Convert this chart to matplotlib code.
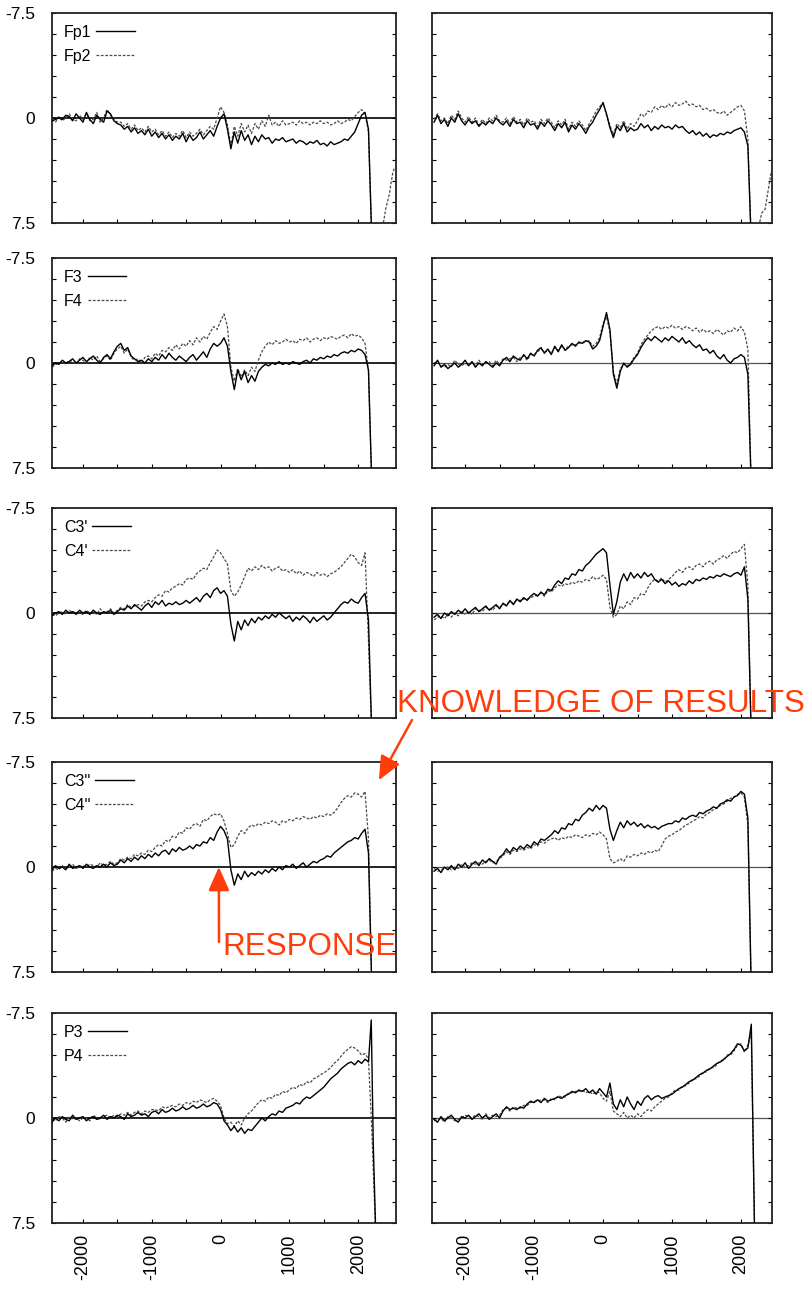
import numpy as np
import matplotlib
matplotlib.use("Agg")
import matplotlib.pyplot as plt

plt.rcParams['font.family'] = ['Liberation Sans', 'DejaVu Sans']

# sampling times (ms), 50 ms step
t = np.arange(-2450, 2151, 50)

# ---- row 1 : Fp1 / Fp2 ----
fp1_l = [0.2, 0.1, 0.0, 0.1, -0.2, -0.1, 0.2, -0.3, 0.0, 0.3,
         -0.4, 0.1, 0.4, -0.2, 0.1, 0.3, -0.5, -0.3, 0.2, 0.4,
         0.5, 0.8, 0.6, 1.0, 0.7, 1.1, 0.9, 1.2, 0.8, 1.3,
         1.0, 1.4, 1.1, 1.5, 1.2, 1.6, 1.3, 1.5, 1.1, 1.7,
         1.2, 1.6, 1.4, 1.0, 1.5, 1.2, 0.9, 1.3, 0.6,
         0.0, -0.3, 0.8, 2.2, 1.0, 1.8, 0.9, 1.6, 1.2, 1.9,
         1.3, 1.7, 1.2, 1.5, 1.4, 1.8, 1.5, 1.6, 1.4, 1.7,
         1.6, 1.5, 1.8, 1.6, 1.7, 1.9, 1.7, 1.8, 1.6, 1.9,
         1.8, 2.0, 1.7, 1.9, 1.8, 1.7, 1.5, 1.6, 1.3, 1.0,
         0.4, -0.2, -0.4, 0.8]
fp2_l = [0.1, 0.3, -0.1, 0.2, 0.0, -0.3, 0.1, 0.2, -0.2, 0.1,
         -0.3, 0.2, 0.1, -0.4, 0.3, 0.0, -0.6, -0.2, 0.1, 0.3,
         0.3, 0.6, 0.4, 0.8, 0.5, 0.9, 0.7, 1.0, 0.6, 1.0,
         0.8, 1.2, 0.9, 1.3, 1.0, 1.4, 1.1, 1.3, 0.9, 1.4,
         1.0, 1.3, 1.1, 0.8, 1.2, 0.9, 0.6, 0.8, 0.0,
         -0.8, -0.4, 0.5, 2.0, 0.6, 1.3, 0.4, 1.0, 0.5, 1.1,
         0.4, 0.8, 0.2, 0.6, -0.2, 0.5, 0.3, 0.6, 0.2, 0.5,
         0.4, 0.3, 0.5, 0.2, 0.4, 0.3, 0.5, 0.3, 0.4, 0.2,
         0.4, 0.3, 0.5, 0.4, 0.2, 0.4, 0.3, 0.1, 0.2, -0.1,
         -0.4, -0.6, -0.3, 1.0]
fp1_r = [0.3, -0.2, 0.4, 0.1, 0.6, 0.0, 0.3, -0.3, 0.2, 0.5,
         0.1, 0.4, 0.2, 0.6, 0.3, 0.5, 0.2, 0.4, 0.0, 0.3,
         0.5, 0.2, 0.6, 0.1, 0.4, 0.3, 0.7, 0.2, 0.5, 0.4,
         0.8, 0.3, 0.6, 0.2, 0.5, 0.9, 0.4, 0.7, 0.3, 1.0,
         0.5, 0.8, 0.4, 0.7, 1.1, 0.6, 0.3, -0.2, -0.6,
         -1.1, -0.3, 0.7, 1.4, 0.6, 0.9, 0.4, 1.0, 0.7, 0.9,
         0.8, 0.4, 0.7, 0.5, 0.9, 0.6, 0.8, 0.5, 0.7, 0.6,
         0.8, 0.5, 0.7, 0.6, 0.9, 1.1, 0.9, 1.2, 1.0, 1.3,
         1.1, 1.4, 1.2, 1.3, 1.1, 1.2, 1.0, 1.1, 0.9, 0.8,
         0.7, 1.0, 2.0, 9.0]
fp2_r = [0.1, -0.3, 0.2, 0.0, 0.4, -0.2, 0.1, -0.5, 0.0, 0.3,
         -0.1, 0.3, 0.0, 0.5, 0.1, 0.4, 0.0, 0.2, -0.2, 0.2,
         0.3, 0.0, 0.4, -0.1, 0.3, 0.1, 0.5, 0.0, 0.3, 0.2,
         0.6, 0.1, 0.4, 0.0, 0.3, 0.7, 0.2, 0.5, 0.1, 0.8,
         0.3, 0.6, 0.2, 0.5, 0.9, 0.4, 0.0, -0.5, -0.8,
         -1.1, -0.2, 0.5, 1.2, 0.4, 0.7, 0.2, 0.8, 0.4, 0.6,
         0.2, -0.3, -0.1, -0.5, -0.4, -0.8, -0.6, -0.9, -0.7, -1.0,
         -0.8, -1.1, -0.9, -1.0, -1.2, -0.9, -1.0, -0.8, -0.9, -0.6,
         -0.7, -0.5, -0.6, -0.4, -0.3, -0.5, -0.2, -0.4, -0.6, -0.8,
         -0.9, -0.5, 1.5, 9.0]

# ---- row 2 : F3 / F4 ----
f3_l = [0.2, 0.0, 0.1, -0.2, 0.0, -0.1, -0.3, 0.0, -0.2, -0.4,
        -0.1, -0.3, -0.5, -0.2, 0.0, -0.4, -0.6, -0.3, -0.8, -1.2,
        -1.4, -0.9, -1.1, -0.5, -0.3, -0.1, -0.2, 0.0, -0.3, -0.1,
        -0.4, -0.2, -0.6, -0.3, -0.7, -0.4, -0.2, -0.5, -0.3, -0.1,
        -0.4, -0.6, -0.2, -0.5, -0.8, -0.4, -1.0, -1.4, -1.2,
        -1.4, -1.8, -1.2, 0.6, 1.9, 0.5, 1.2, 0.6, 1.4, 0.9,
        1.3, 0.6, 0.3, 0.1, 0.2, 0.0, 0.1, -0.1, 0.1, 0.0,
        0.1, -0.1, 0.0, 0.1, -0.1, -0.2, 0.0, -0.3, -0.2, -0.4,
        -0.3, -0.5, -0.4, -0.6, -0.5, -0.7, -0.8, -0.7, -0.9, -0.8,
        -1.0, -0.9, -0.6, 0.5]
f4_l = [0.3, 0.1, 0.0, -0.1, 0.1, -0.2, -0.1, 0.1, -0.3, -0.2,
        0.0, -0.4, -0.2, -0.5, -0.1, -0.3, -0.5, -0.2, -0.7, -1.0,
        -1.2, -0.7, -1.0, -0.4, -0.2, -0.3, 0.0, -0.4, -0.5, -0.3,
        -0.7, -0.5, -0.9, -0.8, -1.1, -0.9, -1.3, -1.0, -1.4, -1.2,
        -1.6, -1.3, -1.8, -1.5, -1.9, -1.7, -2.2, -2.6, -2.4,
        -3.0, -3.5, -2.6, 0.3, 1.3, 0.4, 1.0, 0.5, 0.9, 0.3,
        0.6, -0.2, -0.8, -1.2, -1.5, -1.3, -1.6, -1.4, -1.5, -1.7,
        -1.5, -1.6, -1.4, -1.7, -1.6, -1.8, -1.5, -1.7, -1.8, -1.6,
        -1.8, -1.7, -1.9, -1.8, -1.7, -1.9, -2.0, -1.8, -2.1, -1.9,
        -2.0, -1.8, -1.4, 0.6]
f3_r = [0.2, -0.2, 0.3, 0.1, 0.4, 0.2, 0.0, 0.3, 0.1, -0.2,
        0.2, -0.1, 0.3, 0.0, 0.2, -0.1, 0.1, 0.3, 0.0, 0.2,
        -0.2, -0.4, -0.1, -0.5, -0.3, -0.2, -0.6, -0.3, -0.7, -0.5,
        -0.9, -1.1, -0.7, -1.0, -0.6, -1.2, -0.8, -1.3, -0.9, -1.1,
        -1.4, -1.2, -1.5, -1.4, -1.6, -1.5, -1.0, -1.2, -1.6,
        -2.6, -3.6, -2.4, 0.8, 1.8, 0.6, 0.0, 0.3, 0.1, -0.3,
        -0.6, -1.1, -1.5, -1.8, -1.6, -1.9, -1.7, -1.5, -1.8, -1.6,
        -1.9, -1.7, -1.5, -1.8, -1.4, -1.6, -1.3, -1.1, -1.3, -0.9,
        -1.0, -0.7, -0.9, -0.5, -0.3, -0.6, -0.2, 0.0, -0.3, -0.4,
        -0.6, -0.4, 0.8, 9.0]
f4_r = [0.0, -0.1, 0.2, 0.3, 0.1, 0.3, -0.2, 0.1, 0.2, 0.0,
        0.1, 0.0, 0.2, -0.2, 0.1, 0.0, -0.1, 0.2, -0.2, 0.1,
        -0.3, -0.2, -0.3, -0.4, -0.1, -0.4, -0.5, -0.2, -0.6, -0.6,
        -0.8, -1.0, -0.8, -0.9, -0.7, -1.1, -0.9, -1.2, -1.0, -1.2,
        -1.3, -1.3, -1.4, -1.5, -1.5, -1.6, -1.2, -1.4, -1.8,
        -2.8, -3.3, -2.2, 0.6, 1.5, 0.4, 0.1, 0.2, 0.0, -0.4,
        -0.7, -1.3, -1.7, -2.0, -2.3, -2.5, -2.6, -2.4, -2.6, -2.5,
        -2.7, -2.5, -2.6, -2.4, -2.6, -2.5, -2.3, -2.5, -2.2, -2.4,
        -2.2, -2.3, -2.1, -2.4, -2.2, -2.0, -2.3, -2.2, -2.5, -2.3,
        -2.6, -2.2, -1.0, 9.0]

# ---- row 3 : C3' / C4' ----
c3a_l = [0.2, 0.0, -0.1, 0.1, -0.2, 0.0, -0.1, 0.1, -0.2, 0.0,
         -0.1, 0.1, -0.2, 0.0, 0.1, -0.1, 0.0, -0.2, 0.1, -0.1,
         -0.3, -0.2, -0.5, -0.3, -0.6, -0.4, -0.2, -0.5, -0.7, -0.4,
         -0.8, -0.6, -0.9, -0.5, -0.7, -0.6, -0.8, -0.6, -0.7, -0.9,
         -0.7, -0.9, -1.1, -0.8, -1.2, -1.4, -1.1, -1.6, -1.8,
         -1.4, -1.6, -1.2, 0.8, 2.0, 0.6, 1.2, 0.5, 0.9, 0.4,
         0.7, 0.3, 0.5, 0.2, 0.4, 0.1, 0.3, 0.0, 0.2, 0.4,
         0.2, 0.6, 0.3, 0.5, 0.2, 0.4, 0.7, 0.3, 0.6, 0.4,
         0.2, 0.5, 0.3, 0.0, -0.3, -0.6, -0.8, -0.7, -1.0, -0.8,
         -0.7, -1.1, -1.4, 0.5]
c4a_l = [0.1, 0.2, 0.0, -0.1, 0.1, -0.2, 0.0, -0.1, 0.0, 0.1,
         -0.2, 0.0, -0.1, 0.1, -0.3, 0.0, -0.1, -0.3, 0.0, -0.2,
         -0.4, -0.3, -0.6, -0.4, -0.5, -0.6, -0.5, -0.8, -0.9, -0.8,
         -1.1, -1.3, -1.2, -1.6, -1.5, -1.8, -1.9, -2.1, -2.0, -2.4,
         -2.5, -2.4, -2.8, -3.0, -3.2, -3.1, -3.6, -4.0, -4.5,
         -4.3, -3.9, -3.5, -1.6, -1.2, -1.5, -2.0, -2.6, -3.2, -3.0,
         -3.3, -3.1, -3.4, -3.2, -3.3, -3.0, -3.2, -3.3, -3.0, -3.1,
         -2.9, -3.1, -2.8, -3.0, -2.7, -2.9, -2.8, -2.6, -2.9, -2.7,
         -2.8, -2.6, -2.8, -2.9, -3.1, -3.3, -3.6, -3.9, -4.2, -4.0,
         -3.6, -3.4, -4.3, 2.0]
c3a_r = [0.3, 0.1, 0.4, 0.0, 0.2, -0.1, 0.1, -0.2, 0.0, -0.3,
         0.0, -0.2, -0.4, -0.1, -0.3, -0.5, -0.2, -0.4, -0.6, -0.3,
         -0.7, -0.5, -0.9, -0.6, -1.0, -0.8, -1.1, -0.9, -1.2, -1.4,
         -1.2, -1.5, -1.3, -1.7, -1.6, -2.0, -2.3, -2.1, -2.5, -2.4,
         -2.8, -2.7, -3.1, -3.0, -3.4, -3.6, -3.9, -4.2, -4.4,
         -4.6, -4.3, -2.0, 0.1, -0.8, -2.2, -2.8, -2.3, -2.9, -2.5,
         -2.8, -2.5, -2.9, -2.6, -2.8, -2.4, -2.2, -2.4, -2.1, -2.3,
         -2.0, -2.2, -1.9, -2.1, -2.0, -2.3, -2.1, -2.4, -2.3, -2.5,
         -2.4, -2.6, -2.5, -2.7, -2.6, -2.8, -2.7, -2.6, -2.8, -2.9,
         -2.7, -3.3, -1.0, 9.0]
c4a_r = [0.5, 0.3, 0.2, 0.4, 0.1, 0.3, 0.0, 0.2, -0.1, 0.1,
         -0.1, 0.1, -0.3, -0.2, -0.1, -0.4, -0.3, -0.2, -0.5, -0.4,
         -0.6, -0.6, -0.8, -0.7, -0.9, -0.9, -1.0, -1.0, -1.1, -1.2,
         -1.3, -1.4, -1.2, -1.6, -1.5, -1.8, -2.0, -1.9, -2.1, -2.0,
         -2.2, -2.1, -2.3, -2.2, -2.4, -2.3, -2.6, -2.4, -2.5,
         -2.7, -2.4, -0.4, 0.3, 0.1, -0.5, -0.3, -0.8, -0.6, -1.1,
         -1.0, -1.4, -1.3, -1.8, -2.2, -2.4, -2.3, -2.5, -2.2, -2.4,
         -2.6, -2.9, -3.1, -2.9, -3.2, -3.3, -3.1, -3.4, -3.5, -3.3,
         -3.6, -3.7, -3.5, -3.8, -3.9, -4.1, -3.9, -4.2, -4.4, -4.3,
         -4.6, -4.9, -2.0, 9.0]

# ---- row 4 : C3'' / C4'' ----
c3b_l = [0.2, -0.1, 0.1, 0.0, 0.2, -0.2, 0.1, 0.0, -0.1, 0.1,
         -0.2, 0.0, 0.1, -0.1, 0.0, -0.2, 0.0, -0.3, -0.1, -0.2,
         -0.5, -0.3, -0.6, -0.4, -0.7, -0.5, -0.8, -0.6, -0.9, -0.7,
         -1.0, -0.8, -1.1, -1.2, -0.9, -1.3, -1.1, -1.4, -1.2, -1.3,
         -1.5, -1.3, -1.6, -1.5, -1.8, -1.7, -2.1, -1.9, -2.5,
         -2.9, -2.6, -2.0, 0.2, 1.3, 0.5, 0.9, 0.3, 0.7, 0.4,
         0.6, 0.3, 0.5, 0.2, 0.4, 0.1, 0.3, 0.0, 0.2, -0.1,
         0.0, -0.2, 0.1, -0.1, -0.3, 0.0, -0.2, -0.4, -0.3, -0.5,
         -0.6, -0.8, -0.7, -1.0, -1.2, -1.4, -1.6, -1.8, -1.9, -2.1,
         -2.0, -2.4, -2.7, -1.0]
c4b_l = [0.3, 0.1, 0.2, -0.1, 0.1, 0.0, -0.2, 0.1, 0.0, -0.1,
         0.0, -0.2, -0.1, 0.0, -0.3, -0.1, -0.2, -0.4, -0.2, -0.3,
         -0.6, -0.5, -0.7, -0.6, -0.9, -0.8, -1.0, -0.9, -1.2, -1.1,
         -1.4, -1.6, -1.5, -1.9, -1.8, -2.2, -2.1, -2.5, -2.4, -2.8,
         -2.7, -3.0, -3.1, -2.9, -3.4, -3.3, -3.6, -3.8, -3.7,
         -3.8, -3.3, -2.4, -1.4, -1.6, -2.2, -2.6, -2.4, -2.8, -3.0,
         -2.9, -3.1, -3.0, -3.2, -3.1, -3.3, -3.2, -3.0, -3.3, -3.2,
         -3.4, -3.3, -3.5, -3.4, -3.6, -3.5, -3.4, -3.6, -3.5, -3.7,
         -3.6, -3.8, -3.7, -3.9, -4.2, -4.6, -4.9, -5.1, -5.0, -5.3,
         -5.2, -5.0, -5.4, -2.0]
c3b_r = [0.3, 0.1, 0.4, 0.0, 0.2, -0.1, 0.2, -0.2, 0.0, -0.3,
         0.1, -0.2, -0.4, -0.1, -0.5, -0.3, -0.6, -0.4, -0.2, -0.7,
         -0.9, -1.3, -1.0, -1.4, -1.2, -1.5, -1.3, -1.6, -1.4, -1.8,
         -1.6, -2.0, -1.9, -2.1, -2.3, -2.6, -2.4, -2.8, -2.7, -3.1,
         -3.0, -3.4, -3.3, -3.7, -3.9, -4.2, -4.0, -4.4, -4.1,
         -4.4, -4.2, -2.7, -1.9, -2.6, -3.2, -2.8, -3.3, -3.0, -3.2,
         -2.9, -3.1, -2.8, -3.0, -2.8, -2.9, -2.7, -2.9, -3.0, -3.1,
         -3.1, -3.3, -3.2, -3.5, -3.4, -3.6, -3.7, -3.6, -3.9, -3.8,
         -4.0, -4.1, -4.3, -4.2, -4.5, -4.6, -4.8, -4.7, -5.0, -5.1,
         -5.4, -5.2, -3.5, 9.0]
c4b_r = [0.1, 0.3, 0.2, 0.1, 0.0, 0.2, 0.0, 0.1, -0.2, 0.0,
         -0.1, -0.3, -0.2, -0.3, -0.2, -0.4, -0.5, -0.3, -0.4, -0.6,
         -0.8, -1.1, -0.9, -1.2, -1.1, -1.3, -1.2, -1.4, -1.3, -1.6,
         -1.5, -1.8, -1.7, -1.9, -2.0, -2.1, -1.9, -2.1, -2.0, -2.2,
         -2.1, -2.3, -2.2, -2.1, -2.3, -2.2, -2.4, -2.3, -2.5,
         -2.3, -2.0, -0.6, -0.3, -0.4, -0.6, -0.4, -0.8, -0.7, -0.9,
         -0.8, -1.0, -0.9, -1.1, -1.0, -1.2, -1.1, -1.5, -2.0, -2.2,
         -2.3, -2.5, -2.6, -2.8, -3.0, -3.1, -3.3, -3.4, -3.6, -3.5,
         -3.8, -3.9, -4.1, -4.2, -4.4, -4.5, -4.7, -4.9, -5.0, -5.2,
         -5.3, -5.0, -3.0, 9.0]

# ---- row 5 : P3 / P4 ----
p3_l = [0.3, 0.0, 0.2, -0.1, 0.1, 0.2, -0.2, 0.1, 0.0, -0.1,
        0.2, 0.0, -0.1, 0.1, 0.0, -0.2, 0.1, -0.1, 0.0, -0.2,
        -0.1, 0.1, -0.3, -0.1, -0.2, -0.4, -0.2, -0.3, -0.1, -0.4,
        -0.5, -0.3, -0.6, -0.4, -0.5, -0.7, -0.5, -0.6, -0.8, -0.6,
        -0.7, -0.9, -0.7, -0.8, -1.0, -0.8, -0.9, -1.1, -1.0,
        -0.6, 0.2, 0.5, 0.9, 0.6, 1.0, 0.7, 1.1, 0.8, 0.9,
        0.6, 0.3, 0.0, 0.2, -0.1, -0.3, -0.2, -0.5, -0.4, -0.7,
        -0.8, -0.9, -1.1, -1.0, -1.3, -1.5, -1.4, -1.6, -1.8, -2.0,
        -2.2, -2.5, -2.8, -3.0, -3.2, -3.5, -3.7, -3.9, -4.0, -3.8,
        -4.1, -3.9, -4.2, -4.0]
p4_l = [0.1, 0.2, -0.1, 0.0, 0.3, -0.1, 0.1, 0.0, 0.2, 0.0,
        0.0, 0.2, -0.2, 0.0, 0.1, -0.1, -0.2, 0.0, -0.2, -0.1,
        -0.3, -0.2, -0.4, -0.2, -0.4, -0.5, -0.3, -0.5, -0.4, -0.6,
        -0.6, -0.5, -0.8, -0.7, -0.8, -0.9, -0.8, -1.0, -0.9, -1.1,
        -1.0, -1.2, -1.1, -1.3, -1.2, -1.1, -1.3, -1.4, -1.2,
        -0.9, 0.0, 0.4, 0.3, 0.6, 0.2, 0.5, 0.0, -0.3, -0.5,
        -0.8, -1.1, -1.3, -1.2, -1.5, -1.4, -1.7, -1.6, -1.9, -1.8,
        -2.0, -2.2, -2.1, -2.4, -2.3, -2.6, -2.5, -2.8, -2.9, -3.1,
        -3.2, -3.4, -3.6, -3.9, -4.1, -4.4, -4.7, -4.9, -5.1, -5.0,
        -4.8, -4.5, -4.6, -4.2]
p3_r = [0.1, 0.3, -0.1, 0.2, 0.0, -0.2, 0.1, 0.3, -0.1, 0.0,
        -0.2, 0.1, -0.1, -0.3, 0.0, -0.2, 0.1, -0.1, -0.3, 0.0,
        -0.5, -0.8, -0.6, -0.7, -0.6, -0.8, -0.7, -1.0, -1.2, -1.1,
        -1.3, -1.1, -1.4, -1.2, -1.3, -1.4, -1.5, -1.4, -1.6, -1.7,
        -1.9, -1.8, -2.0, -1.9, -2.1, -1.8, -2.0, -1.7, -2.1,
        -1.8, -1.5, -2.5, -1.0, -0.6, -1.3, -0.8, -1.5, -1.0, -0.6,
        -1.2, -0.9, -1.4, -1.6, -1.3, -1.5, -1.6, -1.4, -1.5, -1.6,
        -1.7, -1.9, -2.1, -2.2, -2.4, -2.6, -2.7, -2.9, -3.1, -3.2,
        -3.4, -3.5, -3.7, -3.9, -4.0, -4.2, -4.4, -4.6, -4.9, -5.3,
        -5.2, -4.8, -5.0, -6.7]
p4_r = [0.2, 0.1, 0.0, 0.3, -0.1, 0.0, 0.2, 0.1, 0.0, -0.2,
        -0.1, 0.0, -0.2, -0.1, 0.1, -0.3, 0.0, -0.2, -0.1, -0.2,
        -0.6, -0.7, -0.5, -0.8, -0.7, -0.7, -0.9, -0.9, -1.1, -1.2,
        -1.2, -1.3, -1.3, -1.1, -1.4, -1.3, -1.6, -1.5, -1.5, -1.8,
        -1.8, -1.9, -1.9, -2.0, -1.8, -1.9, -1.7, -1.9, -1.8,
        -1.4, -1.2, -1.9, -0.5, -0.3, -0.1, -0.4, 0.0, -0.2, 0.0,
        -0.3, -0.1, -0.4, -0.6, -0.5, -0.8, -1.0, -1.2, -1.4, -1.5,
        -1.8, -2.0, -2.0, -2.3, -2.3, -2.5, -2.8, -2.8, -3.0, -3.3,
        -3.3, -3.6, -3.6, -3.8, -4.1, -4.1, -4.5, -4.5, -4.8, -5.2,
        -5.3, -4.7, -5.2, -6.0]

# end-of-epoch segments (time, value) after the last regular sample
plunge_t, plunge_v = [2200], [9.0]
fp2_l_tail_t = [2200, 2350, 2400, 2450, 2500, 2530]
fp2_l_tail_v = [9.0, 8.0, 6.5, 5.5, 4.0, 3.5]
fp2_r_tail_t = [2200, 2270, 2300, 2350, 2400, 2440]
fp2_r_tail_v = [9.0, 7.5, 6.8, 6.5, 5.0, 3.8]
p3_l_tail_t, p3_l_tail_v = [2190, 2220, 2260], [-7.0, 2.0, 9.0]
p4_l_tail_t, p4_l_tail_v = [2200, 2260], [1.0, 9.0]

rows = [
    ("Fp1", "Fp2", fp1_l, fp2_l, fp1_r, fp2_r,
     (plunge_t, plunge_v), (fp2_l_tail_t, fp2_l_tail_v),
     (plunge_t, plunge_v), (fp2_r_tail_t, fp2_r_tail_v)),
    ("F3", "F4", f3_l, f4_l, f3_r, f4_r,
     (plunge_t, plunge_v), (plunge_t, plunge_v), (plunge_t, plunge_v), (plunge_t, plunge_v)),
    ("C3'", "C4'", c3a_l, c4a_l, c3a_r, c4a_r,
     (plunge_t, plunge_v), (plunge_t, plunge_v), (plunge_t, plunge_v), (plunge_t, plunge_v)),
    ("C3''", "C4''", c3b_l, c4b_l, c3b_r, c4b_r,
     (plunge_t, plunge_v), (plunge_t, plunge_v), (plunge_t, plunge_v), (plunge_t, plunge_v)),
    ("P3", "P4", p3_l, p4_l, p3_r, p4_r,
     (p3_l_tail_t, p3_l_tail_v), (p4_l_tail_t, p4_l_tail_v), (plunge_t, plunge_v), (plunge_t, plunge_v)),
]

xticks = [-2000, -1000, 0, 1000, 2000]
xtick_labels = ["-2000", "-1000", "0", "1000", "2000"]
yticks = [-7.5, 0, 7.5]
ytick_labels = ["-7.5", "0", "7.5"]

W, H = 811, 1289
fig = plt.figure(figsize=(W / 100, H / 100), dpi=100)

row_tops = [13, 258, 508, 762, 1013]
panel_h = 210
cols = [(52, 344, (-2450, 2550)), (432, 340, (-2480, 2450))]

solid_kw = dict(color="black", lw=1.0)
dash_kw = dict(color="#4a4a4a", lw=0.9, ls=(0, (2.2, 1.3)))


def trace(values, tail):
    tt = list(t[:len(values)]) + list(tail[0])
    vv = list(values) + list(tail[1])
    return tt, vv


axes = []
for r, row in enumerate(rows):
    lab_a, lab_b, la, lb, ra, rb, tla, tlb, tra, trb = row
    for c, (x0, w, xl) in enumerate(cols):
        ax = fig.add_axes([x0 / W, 1 - (row_tops[r] + panel_h) / H, w / W, panel_h / H])
        axes.append(ax)
        a, b = (la, lb) if c == 0 else (ra, rb)
        ta, tb = (tla, tlb) if c == 0 else (tra, trb)
        if not (c == 1 and r == 0):
            ax.axhline(0, color="black" if c == 0 else "#555555",
                       lw=1.2 if c == 0 else 0.9, zorder=1)
        ax.plot(*trace(a, ta), **solid_kw, label=lab_a, zorder=3)
        ax.plot(*trace(b, tb), **dash_kw, label=lab_b, zorder=2)
        ax.set_xlim(*xl)
        ax.set_ylim(7.5, -7.5)
        ax.set_xticks(np.arange(-2000, 2001, 500))
        ax.set_yticks(np.arange(-7.5, 7.6, 1.5))
        ax.tick_params(direction="in", length=3, width=0.8, top=False, right=True,
                       labelbottom=False, labelleft=False)
        for s in ax.spines.values():
            s.set_linewidth(1.3)
            s.set_color("#222222")
        if c == 0:
            sec = ax.secondary_yaxis("left")
            sec.set_yticks(yticks)
            sec.set_yticklabels(ytick_labels, fontsize=12.5)
            sec.tick_params(length=0, pad=12)
            sec.spines["left"].set_visible(False)
            ax.legend(loc="upper left", frameon=False, markerfirst=False,
                      fontsize=11.5, handlelength=2.4, handletextpad=0.3,
                      labelspacing=0.55, borderaxespad=0.35)
        if r == len(rows) - 1:
            secx = ax.secondary_xaxis("bottom")
            secx.set_xticks(xticks)
            secx.set_xticklabels(xtick_labels, rotation=90, fontsize=13)
            secx.tick_params(length=0, pad=8)
            secx.spines["bottom"].set_visible(False)

red = "#FF3C0A"
ax4 = axes[6]
fig.text(397 / W, 1 - 712 / H, "KNOWLEDGE OF RESULTS", color=red, fontsize=22.6,
         ha="left", va="baseline")
fig.text(222 / W, 1 - 955 / H, "RESPONSE", color=red, fontsize=22.6,
         ha="left", va="baseline")
arrow = dict(arrowstyle="-|>,head_length=0.9,head_width=0.4", color=red, lw=1.8,
             shrinkA=0, shrinkB=0, mutation_scale=16)
ax4.annotate("", xy=(-25, 0.0), xycoords="data",
             xytext=(219 / W, 1 - 942 / H), textcoords="figure fraction",
             arrowprops=arrow, annotation_clip=False)
ax4.annotate("", xy=(2300, -6.2), xycoords="data",
             xytext=(412 / W, 1 - 720 / H), textcoords="figure fraction",
             arrowprops=arrow, annotation_clip=False)

fig.savefig("out.png", dpi=100)
